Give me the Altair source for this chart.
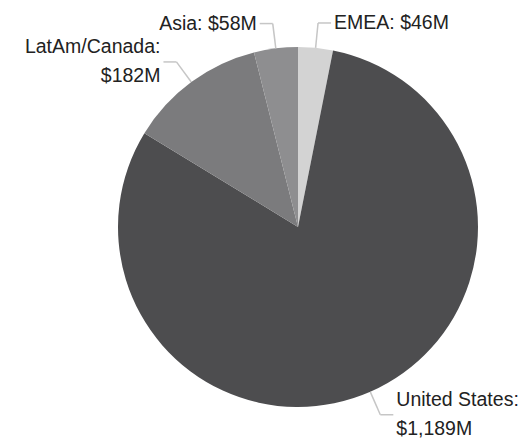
import altair as alt
import pandas as pd

regions = ["EMEA", "United States", "LatAm/Canada", "Asia"]
revenue = [46, 1189, 182, 58]
label_lines = [["EMEA: $46M"], ["United States:", "$1,189M"], ["LatAm/Canada:", "$182M"], ["Asia: $58M"]]
slice_colors = ["#d3d3d3", "#4d4d4f", "#7b7b7d", "#8e8e90"]

df = pd.DataFrame({
    "region": regions,
    "value": revenue,
    "idx": list(range(len(regions))),
    "label": label_lines,
})

CX, CY, R, R_ELBOW, HLEN, GAP, LH = 290, 219, 180, 205, 13, 3, 29

base = alt.Chart(df)

pie = base.mark_arc(radius=R).encode(
    theta=alt.Theta("value:Q", stack=True),
    order=alt.Order("idx:O"),
    color=alt.Color("region:N", scale=alt.Scale(domain=regions, range=slice_colors), legend=None),
    x=alt.value(CX),
    y=alt.value(CY),
)

geo = base.transform_joinaggregate(total="sum(value)").transform_window(
    cum="sum(value)", sort=[alt.SortField("idx")], frame=[None, 0]
).transform_calculate(
    mid="((datum.cum - datum.value) + datum.value / 2) / datum.total * 2 * PI",
).transform_calculate(
    dir="sin(datum.mid) >= 0 ? 1 : -1",
    ex=f"{CX} + {R} * sin(datum.mid)",
    ey=f"{CY} - {R} * cos(datum.mid)",
    bx=f"{CX} + {R_ELBOW} * sin(datum.mid)",
    by=f"{CY} - {R_ELBOW} * cos(datum.mid)",
).transform_calculate(
    hx=f"datum.bx + datum.dir * {HLEN}",
    tx=f"datum.bx + datum.dir * {HLEN + GAP}",
    ty=f"datum.by - (length(datum.label) - 1) * {LH} / 2",
)

line_color = "#c6c6c6"
seg1 = geo.mark_rule(color=line_color, strokeWidth=1.5).encode(
    x=alt.X("ex:Q", scale=None), y=alt.Y("ey:Q", scale=None),
    x2="bx:Q", y2="by:Q",
)
seg2 = geo.mark_rule(color=line_color, strokeWidth=1.5).encode(
    x=alt.X("bx:Q", scale=None), y=alt.Y("by:Q", scale=None),
    x2="hx:Q", y2="by:Q",
)

text_props = dict(font="Liberation Sans", fontSize=19.5, color="#222222", baseline="middle", lineHeight=LH)
txt_right = geo.transform_filter("datum.dir > 0").mark_text(align="left", **text_props).encode(
    x=alt.X("tx:Q", scale=None), y=alt.Y("ty:Q", scale=None), text="label",
)
txt_left = geo.transform_filter("datum.dir < 0").mark_text(align="right", **text_props).encode(
    x=alt.X("tx:Q", scale=None), y=alt.Y("ty:Q", scale=None), text="label",
)

chart = alt.layer(pie, seg1, seg2, txt_right, txt_left).properties(
    width=514, height=433, padding=0, autosize="none", background="white"
).configure_view(stroke=None)

chart.save("out.html", embed_options={"renderer": "svg", "actions": False})
